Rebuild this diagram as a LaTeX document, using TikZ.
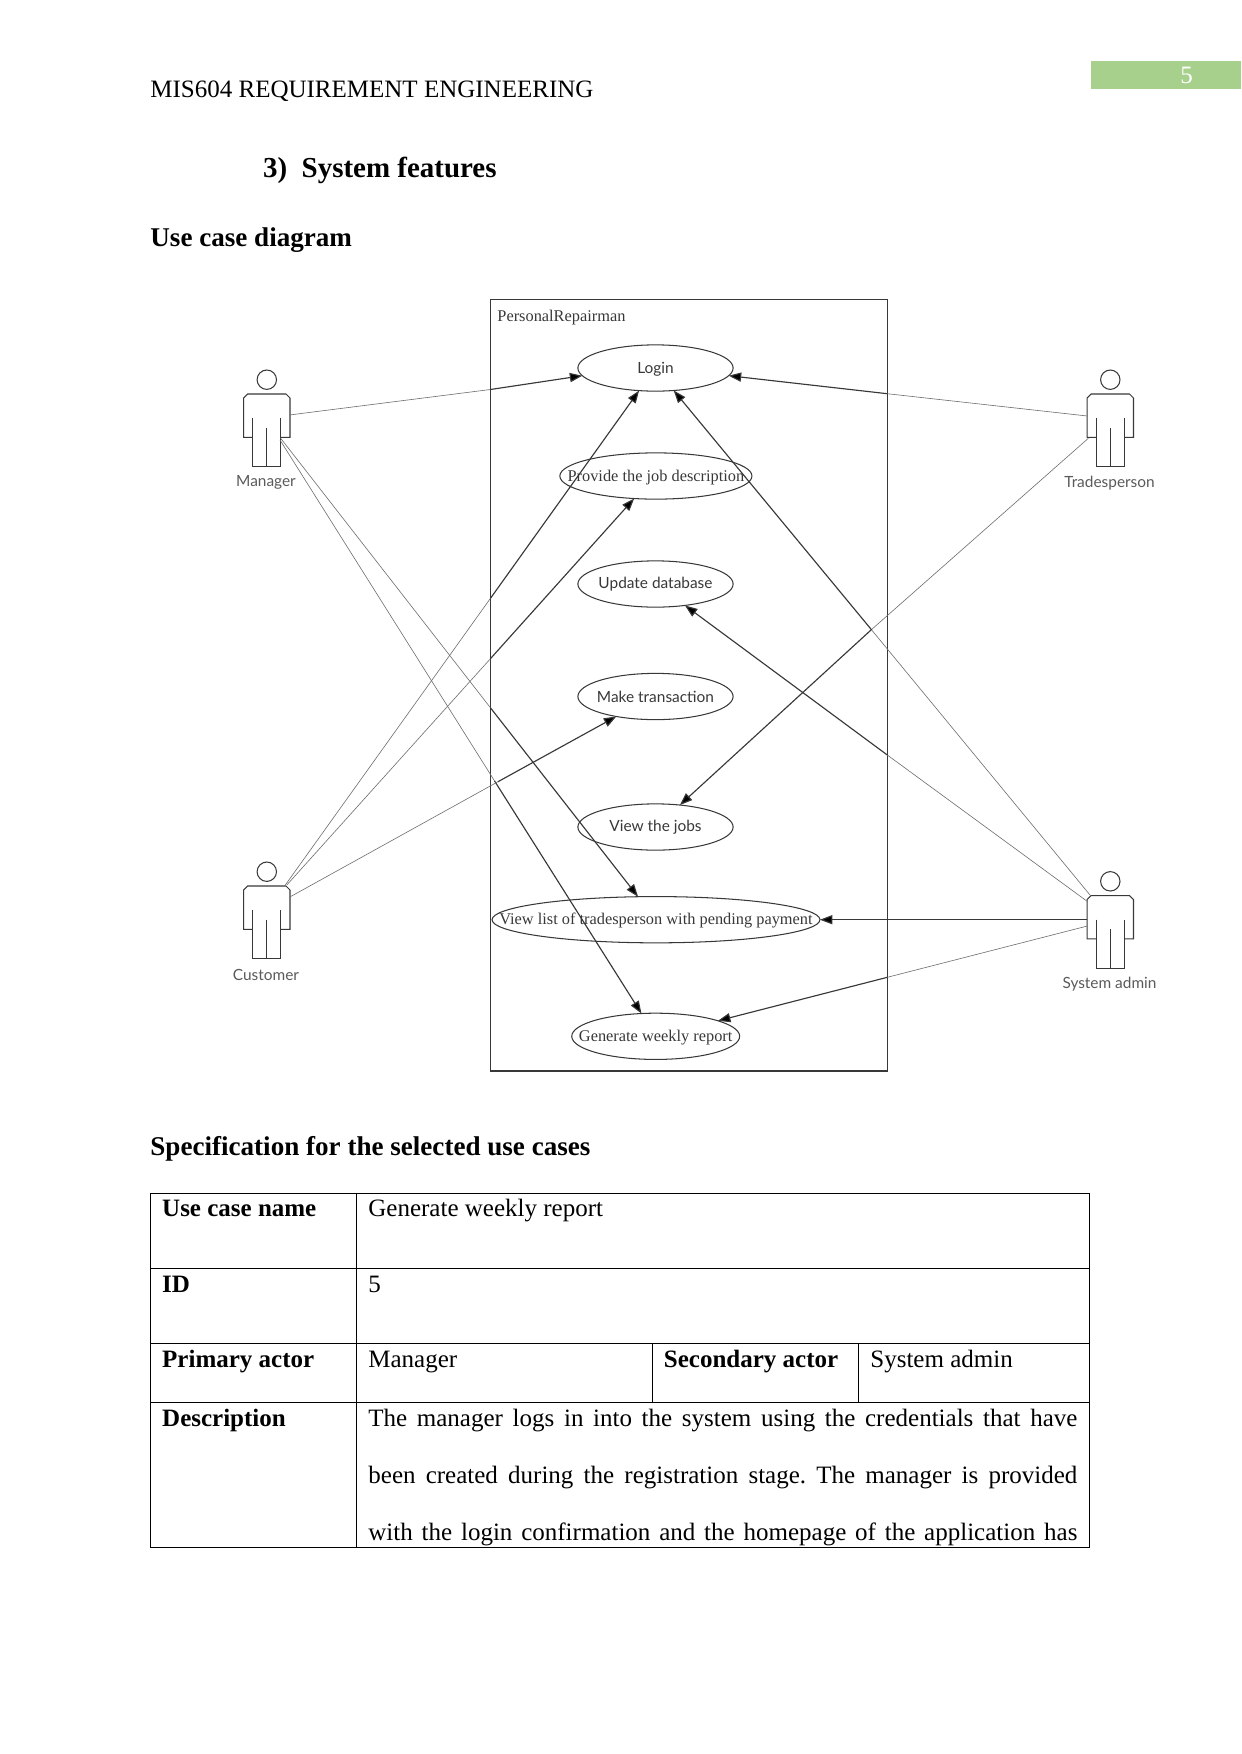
\documentclass[tikz,border=0pt]{standalone}
\usepackage{fontspec}
\setmainfont{Liberation Serif}
\newfontfamily\umlsans{Lato}
\usetikzlibrary{arrows.meta,shapes.geometric}
\frenchspacing

\definecolor{pagegreen}{HTML}{A8D08D}
\definecolor{umlink}{HTML}{383838}
\definecolor{umlfaint}{HTML}{707070}
\definecolor{actortext}{HTML}{5A5A5A}

\newcommand{\bodyfont}{\fontsize{12bp}{14bp}\selectfont}
\newcommand{\headfont}{\fontsize{13bp}{15bp}\selectfont\bfseries}
\newcommand{\umlserif}{\fontsize{7.85bp}{9bp}\selectfont\color{umlink}}
\newcommand{\umllabel}{\fontsize{7.4bp}{9bp}\selectfont\umlsans\color{umlink}}
\newcommand{\actorfont}{\fontsize{7.4bp}{9bp}\selectfont\umlsans\color{actortext}}
\newcommand{\zerobox}[1]{\makebox[0pt]{#1}}
\newcommand{\lowbox}[1]{\smash{\raisebox{-2.5bp}{\makebox[0pt]{#1}}}}
\newcommand{\justline}[1]{\makebox[340.3bp][s]{#1}}

\tikzset{
    cell/.style={anchor=base west, inner sep=0pt, font=\bodyfont},
    cellhead/.style={anchor=base west, inner sep=0pt, font=\headfont},
    usecase/.style={ellipse, draw=umlink, line width=0.5bp, inner sep=0pt, outer sep=0pt,
        minimum width=#1bp, minimum height=22.2bp},
    usecase/.default=74.5,
    faintline/.style={draw=umlfaint, line width=0.3bp},
    assocline/.style={draw=umlink, line width=0.55bp, -{Triangle[length=6bp,width=4.4bp,fill=black]}},
    pics/actor/.style={code={
        \draw[umlink, line width=0.5bp] (0,0) circle[radius=9.7];
        \draw[umlink, line width=0.5bp] (-14.1,57.6) -- (-23.2,57.6) -- (-23.2,18.3) -- (-19.2,14.3)
            -- (19.2,14.3) -- (23.2,18.3) -- (23.2,57.6) -- (14.1,57.6);
        \draw[umlink, line width=0.5bp] (-14.1,38.3) -- (-14.1,87) -- (14.1,87) -- (14.1,38.3);
        \draw[umlink, line width=0.5bp] (0,48) -- (0,87);
        \node[font=\actorfont, inner sep=0pt] (-label) at (-0.8,103) {#1};
    }}
}

\begin{document}
\begin{tikzpicture}[x=0.48bp,y=-0.48bp]
    \useasboundingbox (0,0) rectangle (1241,1754);

    % Page head
    \fill[pagegreen] (1090.7,60.7) rectangle (1241,89.3);
    \node[font=\bodyfont, text=white, inner sep=0pt] (pagenum) at (1186.7,75) {5};
    \node[cell] (runhead) at (150,97.7) {MIS604 REQUIREMENT ENGINEERING};
    \node[anchor=base west, inner sep=0pt, font=\fontsize{13.9bp}{16bp}\selectfont\bfseries] (section) at (262.7,177.7) {3)\ \ System features};
    \node[cellhead] (diagramhead) at (150,246.7) {Use case diagram};

    % System boundary
    \draw[umlink, line width=0.5bp] (490.4,299.3) rectangle (887.3,1071);
    \node[anchor=base west, inner sep=0pt, font=\umlserif] (boundary) at (497,321) {PersonalRepairman};

    % Use cases
    \node[usecase] (login) at (655.5,368) {\lowbox{\umllabel Login}};
    \node[usecase=92.2] (provide) at (655.9,476) {\lowbox{\umlserif Provide the job description}};
    \node[usecase] (update) at (655.5,584) {\zerobox{\umllabel Update database}};
    \node[usecase] (transaction) at (655.5,696.5) {\zerobox{\umllabel Make transaction}};
    \node[usecase] (jobs) at (655.5,827) {\zerobox{\umllabel View the jobs}};
    \node[usecase=157.4] (pending) at (656,919.7) {\lowbox{\umlserif View list of tradesperson with pending payment}};
    \node[usecase=80.6] (weekly) at (655.7,1036.3) {\lowbox{\umlserif Generate weekly report}};

    % Actors
    \pic (manager) at (266.8,379.7) {actor={Manager}};
    \pic (customer) at (266.8,871.7) {actor={Customer}};
    \pic (trades) at (1110.3,379.7) {actor={Tradesperson}};
    \pic (admin) at (1110.3,881.3) {actor={System admin}};

    % Line ends at the actors
    \coordinate (mgrLogin) at (289.3,415);
    \coordinate (mgrPending) at (280.7,438.3);
    \coordinate (mgrWeekly) at (280,440);
    \coordinate (cusLogin) at (284.6,886);
    \coordinate (cusProvide) at (286.8,885);
    \coordinate (cusMake) at (289.3,897.3);
    \coordinate (trdLogin) at (1087.3,416);
    \coordinate (trdJobs) at (1088.3,438.3);
    \coordinate (admLogin) at (1090,895);
    \coordinate (admUpdate) at (1087.7,901.7);
    \coordinate (admPending) at (1087.3,919.7);
    \coordinate (admWeekly) at (1087.3,926);

    % Where the lines turn dark
    \coordinate (mgrLoginB) at (490.4,389.5);
    \coordinate (mgrPendingB) at (490.4,707.7);
    \coordinate (mgrWeeklyB) at (494.6,781);
    \coordinate (cusLoginB) at (490.4,598.4);
    \coordinate (cusProvideB) at (490.4,658.7);
    \coordinate (cusMakeB) at (498,781.7);
    \coordinate (trdLoginB) at (887.3,393.7);
    \coordinate (trdJobsB) at (871,630);
    \coordinate (admLoginB) at (871.7,630);
    \coordinate (admUpdateB) at (887.3,755);
    \coordinate (admWeeklyB) at (887.3,977.3);

    % Manager
    \draw[faintline] (mgrLogin) -- (mgrLoginB);
    \draw[assocline] (mgrLoginB) -- (login.186.8);
    \draw[faintline] (mgrPending) -- (mgrPendingB);
    \draw[assocline] (mgrPendingB) -- (pending.128.8);
    \draw[faintline] (mgrWeekly) -- (mgrWeeklyB);
    \draw[assocline] (mgrWeeklyB) -- (weekly.122.9);

    % Customer
    \draw[faintline] (cusLogin) -- (cusLoginB);
    \draw[assocline] (cusLoginB) -- (login.234);
    \draw[faintline] (cusProvide) -- (cusProvideB);
    \draw[assocline] (cusProvideB) -- (provide.226.6);
    \draw[faintline] (cusMake) -- (cusMakeB);
    \draw[assocline] (cusMakeB) -- (transaction.207.6);

    % Tradesperson
    \draw[faintline] (trdLogin) -- (trdLoginB);
    \draw[assocline] (trdLoginB) -- (login.354);
    \draw[faintline] (trdJobs) -- (trdJobsB);
    \draw[assocline] (trdJobsB) -- (jobs.42.7);

    % System admin
    \draw[faintline] (admLogin) -- (admLoginB);
    \draw[assocline] (admLoginB) -- (login.309.4);
    \draw[faintline] (admUpdate) -- (admUpdateB);
    \draw[assocline] (admUpdateB) -- (update.324.3);
    \draw[assocline] (admPending) -- (pending.east);
    \draw[faintline] (admWeekly) -- (admWeeklyB);
    \draw[assocline] (admWeeklyB) -- (weekly.14.2);

    % Specification table
    \node[cellhead] (spechead) at (150,1155) {Specification for the selected use cases};
    \draw[black, line width=0.5bp] (150.3,1193.3) rectangle (1089.7,1547.3);
    \draw[black, line width=0.5bp] (150.3,1268.3) -- (1089.7,1268.3);
    \draw[black, line width=0.5bp] (150.3,1343.3) -- (1089.7,1343.3);
    \draw[black, line width=0.5bp] (150.3,1402.3) -- (1089.7,1402.3);
    \draw[black, line width=0.5bp] (356.3,1193.3) -- (356.3,1547.3);
    \draw[black, line width=0.5bp] (652.3,1343.3) -- (652.3,1402.3);
    \draw[black, line width=0.5bp] (858.3,1343.3) -- (858.3,1402.3);

    \node[cell, font=\bodyfont\bfseries] (namekey) at (161.8,1216) {Use case name};
    \node[cell] (nameval) at (368,1216) {Generate weekly report};
    \node[cell, font=\bodyfont\bfseries] (idkey) at (161.8,1292) {ID};
    \node[cell] (idval) at (368,1292) {5};
    \node[cell, font=\bodyfont\bfseries] (primarykey) at (161.8,1367) {Primary actor};
    \node[cell] (primaryval) at (368,1367) {Manager};
    \node[cell, font=\bodyfont\bfseries] (secondkey) at (663.5,1367) {Secondary actor};
    \node[cell] (secondval) at (870,1367) {System admin};
    \node[cell, font=\bodyfont\bfseries] (desckey) at (161.8,1426) {Description};
    \node[cell] (descone) at (368,1426) {\justline{The manager logs in into the system using the credentials that have}};
    \node[cell] (desctwo) at (368,1483) {\justline{been created during the registration stage. The manager is provided}};
    \node[cell] (descthree) at (368,1540) {\justline{with the login confirmation and the homepage of the application has}};
\end{tikzpicture}
\end{document}
